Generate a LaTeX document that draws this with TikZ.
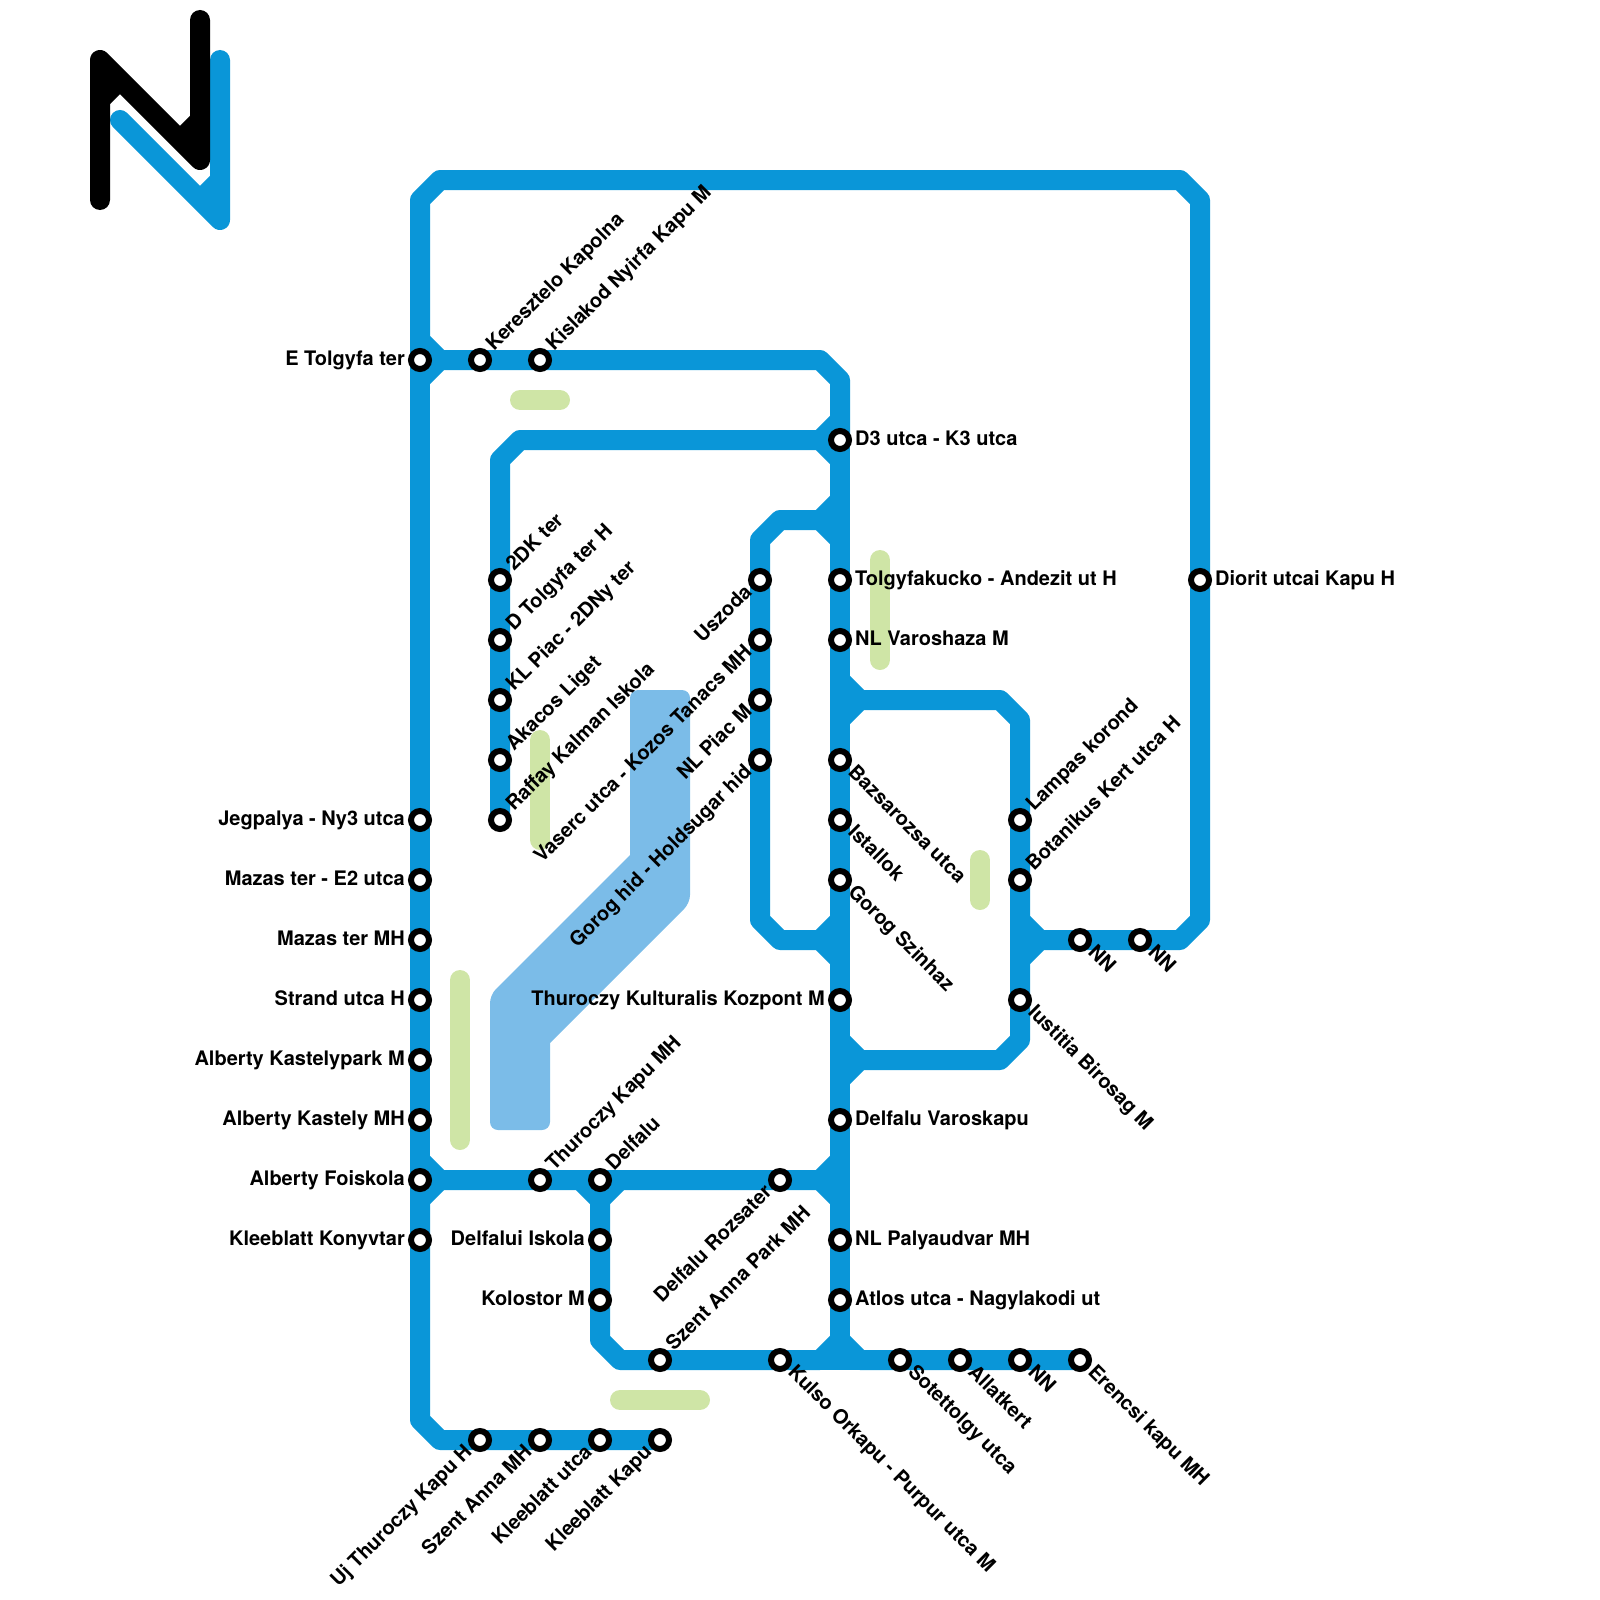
\documentclass[tikz,border=0pt]{standalone}
\usepackage{fontspec}
\setmainfont{TeX Gyre Heros}[Ligatures=TeX]
\usetikzlibrary{calc}
\pgfdeclarelayer{bgl}
\pgfsetlayers{bgl,main}
\definecolor{lineblue}{HTML}{0A96D8}
\definecolor{areablue}{HTML}{7BBCE8}
\definecolor{parkgreen}{HTML}{CFE5A6}
\tikzset{
  x=1pt,y=-1pt,
  stnode/.style={circle,draw=black,fill=white,line width=6pt,minimum size=18pt,inner sep=0pt},
  lab/.style={font=\bfseries\fontsize{20}{20}\selectfont,inner sep=0pt,text=black},
  labE/.style={lab,anchor=base west,xshift=15pt,yshift=-5pt},
  labW/.style={lab,anchor=base east,xshift=-15pt,yshift=-5pt},
  labNE/.style={lab,anchor=base west,xshift=14pt,yshift=8pt,rotate=45},
  labSE/.style={lab,anchor=base west,xshift=7pt,yshift=-13pt,rotate=-45},
  labSW/.style={lab,anchor=base east,xshift=-7pt,yshift=-13pt,rotate=45},
  route/.style={draw=lineblue,line width=20pt,line join=round,line cap=butt},
  park/.style={draw=parkgreen,line width=20pt,line cap=round},
  logo/.style={line width=20pt,line cap=round,line join=round},
  logocut/.style={line width=20pt,line cap=butt},
}
\newcommand{\stn}[5]{\node[stnode] (#1) at (#2,#3) {}; \node[lab#4] (#1-l) at (#1.center) {#5};}
\newcommand{\bend}[3]{\coordinate (#1) at (#2,#3);}
\begin{document}
\begin{tikzpicture}
\useasboundingbox (0,0) rectangle (1600,1600);
% stations
\stn{a1}{420}{360}{W}{E Tolgyfa ter}
\stn{a2}{480}{360}{NE}{Keresztelo Kapolna}
\stn{a3}{540}{360}{NE}{Kislakod Nyirfa Kapu M}
\stn{b1}{500}{580}{NE}{2DK ter}
\stn{b2}{500}{640}{NE}{D Tolgyfa ter H}
\stn{b3}{500}{700}{NE}{KL Piac - 2DNy ter}
\stn{b4}{500}{760}{NE}{Akacos Liget}
\stn{b5}{500}{820}{NE}{Raffay Kalman Iskola}
\stn{c1}{760}{580}{SW}{Uszoda}
\stn{c2}{760}{640}{SW}{Vaserc utca - Kozos Tanacs MH}
\stn{c3}{760}{700}{SW}{NL Piac M}
\stn{c4}{760}{760}{SW}{Gorog hid - Holdsugar hid}
\stn{d1}{840}{440}{E}{D3 utca - K3 utca}
\stn{d2}{840}{580}{E}{Tolgyfakucko - Andezit ut H}
\stn{d3}{840}{640}{E}{NL Varoshaza M}
\stn{d4}{840}{760}{SE}{Bazsarozsa utca}
\stn{d5}{840}{820}{SE}{Istallok}
\stn{d6}{840}{880}{SE}{Gorog Szinhaz}
\stn{d7}{840}{1000}{W}{Thuroczy Kulturalis Kozpont M}
\stn{d8}{840}{1120}{E}{Delfalu Varoskapu}
\stn{d9}{840}{1240}{E}{NL Palyaudvar MH}
\stn{d10}{840}{1300}{E}{Atlos utca - Nagylakodi ut}
\stn{e1}{1200}{580}{E}{Diorit utcai Kapu H}
\stn{f1}{1020}{820}{NE}{Lampas korond}
\stn{f2}{1020}{880}{NE}{Botanikus Kert utca H}
\stn{f3}{1020}{1000}{SE}{Iustitia Birosag M}
\stn{g1}{1080}{940}{SE}{NN}
\stn{g2}{1140}{940}{SE}{NN}
\stn{h1}{420}{820}{W}{Jegpalya - Ny3 utca}
\stn{h2}{420}{880}{W}{Mazas ter - E2 utca}
\stn{h3}{420}{940}{W}{Mazas ter MH}
\stn{h4}{420}{1000}{W}{Strand utca H}
\stn{h5}{420}{1060}{W}{Alberty Kastelypark M}
\stn{h6}{420}{1120}{W}{Alberty Kastely MH}
\stn{h7}{420}{1180}{W}{Alberty Foiskola}
\stn{h8}{420}{1240}{W}{Kleeblatt Konyvtar}
\stn{i1}{540}{1180}{NE}{Thuroczy Kapu MH}
\stn{i2}{600}{1180}{NE}{Delfalu}
\stn{i3}{780}{1180}{SW}{Delfalu Rozsater}
\stn{j1}{600}{1240}{W}{Delfalui Iskola}
\stn{j2}{600}{1300}{W}{Kolostor M}
\stn{k1}{660}{1360}{NE}{Szent Anna Park MH}
\stn{k2}{780}{1360}{SE}{Kulso Orkapu - Purpur utca M}
\stn{k3}{900}{1360}{SE}{Sotettolgy utca}
\stn{k4}{960}{1360}{SE}{Allatkert}
\stn{k5}{1020}{1360}{SE}{NN}
\stn{k6}{1080}{1360}{SE}{Erencsi kapu MH}
\stn{m1}{480}{1440}{SW}{Uj Thuroczy Kapu H}
\stn{m2}{540}{1440}{SW}{Szent Anna MH}
\stn{m3}{600}{1440}{SW}{Kleeblatt utca}
\stn{m4}{660}{1440}{SW}{Kleeblatt Kapu}
% bends
\bend{p1}{420}{340}\bend{p2}{420}{200}\bend{p3}{440}{180}\bend{p4}{1180}{180}\bend{p5}{1200}{200}
\bend{p6}{1200}{920}\bend{p7}{1180}{940}\bend{p8}{1040}{940}\bend{p9}{1020}{920}\bend{p10}{1020}{960}
\bend{q1}{440}{360}\bend{q2}{420}{380}\bend{q3}{820}{360}\bend{q4}{840}{380}
\bend{r1}{840}{420}\bend{r2}{820}{440}\bend{r3}{840}{460}\bend{r4}{520}{440}\bend{r5}{500}{460}
\bend{t1}{840}{500}\bend{t2}{820}{520}\bend{t3}{840}{540}\bend{t4}{780}{520}\bend{t5}{760}{540}
\bend{t6}{760}{920}\bend{t7}{780}{940}\bend{t8}{820}{940}\bend{t9}{840}{920}\bend{t10}{840}{960}
\bend{u1}{840}{680}\bend{u2}{860}{700}\bend{u3}{840}{720}\bend{u4}{1000}{700}\bend{u5}{1020}{720}
\bend{v1}{1020}{1040}\bend{v2}{1000}{1060}\bend{v3}{860}{1060}\bend{v4}{840}{1040}\bend{v5}{840}{1080}
\bend{w1}{420}{1160}\bend{w2}{440}{1180}\bend{w3}{420}{1200}\bend{w4}{820}{1180}\bend{w5}{840}{1160}\bend{w6}{840}{1200}
\bend{x1}{580}{1180}\bend{x2}{600}{1200}\bend{x3}{620}{1180}\bend{x4}{600}{1340}\bend{x5}{620}{1360}
\bend{x6}{820}{1360}\bend{x7}{840}{1340}\bend{x8}{860}{1360}
\bend{y1}{420}{1420}\bend{y2}{440}{1440}
\bend{z1}{630}{690}\bend{z2}{690}{690}\bend{z3}{690}{903}\bend{z4}{550}{1043}\bend{z5}{550}{1130}
\bend{z6}{490}{1130}\bend{z7}{490}{995}\bend{z8}{630}{855}
\bend{g1a}{520}{400}\bend{g1b}{560}{400}\bend{g2a}{880}{560}\bend{g2b}{880}{660}
\bend{g3a}{980}{860}\bend{g3b}{980}{900}\bend{g4a}{540}{740}\bend{g4b}{540}{840}
\bend{g5a}{460}{980}\bend{g5b}{460}{1140}\bend{g6a}{620}{1400}\bend{g6b}{700}{1400}
\bend{n1}{100}{200}\bend{n2}{100}{60}\bend{n3}{200}{160}\bend{n4}{200}{20}
\bend{n5}{120}{120}\bend{n6}{220}{220}\bend{n7}{220}{60}
\bend{n8}{100}{100}\bend{n9}{120}{80}\bend{n10}{200}{120}\bend{n11}{180}{140}\bend{n12}{220}{180}\bend{n13}{200}{200}
\begin{pgfonlayer}{bgl}
% parks and area
\fill[areablue] (z8) [rounded corners=8pt] -- (z1) -- (z2) -- (z3) [sharp corners] -- (z4) [rounded corners=8pt] -- (z5) -- (z6) -- (z7) [sharp corners] -- (z8) -- cycle;
\draw[park] (g1a) -- (g1b);
\draw[park] (g2a) -- (g2b);
\draw[park] (g3a) -- (g3b);
\draw[park] (g4a) -- (g4b);
\draw[park] (g5a) -- (g5b);
\draw[park] (g6a) -- (g6b);
% routes
\draw[route] (p10) -- (p8) -- (g1.center) -- (g2.center) -- (p7) -- (p6) -- (e1.center) -- (p5) -- (p4) -- (p3) -- (p2) -- (p1) -- (q1);
\draw[route] (p9) -- (p8);
\draw[route] (w3) -- (h8.center) -- (y1) -- (y2) -- (m1.center) -- (m2.center) -- (m3.center) -- (m4.center);
\draw[route] (w3) -- (w2);
\draw[route] (p2) -- (a1.center) -- (h1.center) -- (h2.center) -- (h3.center) -- (h4.center) -- (h5.center) -- (h6.center) -- (h7.center) -- (h8.center);
\draw[route] (q2) -- (q1) -- (a2.center) -- (a3.center) -- (q3) -- (q4) -- (r1) -- (d1.center);
\draw[route] (a1.center) -- (q1);
\draw[route] (b5.center) -- (b4.center) -- (b3.center) -- (b2.center) -- (b1.center) -- (r5) -- (r4) -- (r2) -- (r1);
\draw[route] (r2) -- (r3);
\draw[route] (t1) -- (t2) -- (t4) -- (t5) -- (c1.center) -- (c2.center) -- (c3.center) -- (c4.center) -- (t6) -- (t7) -- (t8) -- (t9);
\draw[route] (t2) -- (t3);
\draw[route] (t8) -- (t10);
\draw[route] (q4) -- (d1.center) -- (d2.center) -- (d3.center) -- (d4.center) -- (d5.center) -- (d6.center) -- (d7.center) -- (d8.center) -- (d9.center) -- (d10.center) -- (x7);
\draw[route] (u3) -- (u2) -- (u4) -- (u5) -- (f1.center) -- (f2.center) -- (p9) -- (f3.center) -- (v1) -- (v2) -- (v3) -- (v5);
\draw[route] (u1) -- (u2);
\draw[route] (v3) -- (v4);
\draw[route] (w1) -- (w2) -- (i1.center) -- (i2.center) -- (i3.center) -- (w4) -- (w5);
\draw[route] (w4) -- (w6);
\draw[route] (x1) -- (x2) -- (j1.center) -- (j2.center) -- (x4) -- (x5) -- (k1.center) -- (k2.center) -- (x6) -- (x7) -- (x8) -- (k3.center) -- (k4.center) -- (k5.center) -- (k6.center);
\draw[route] (x3) -- (x2);
\draw[route] (x6) -- (x8);
\end{pgfonlayer}
% logo
\draw[logo,lineblue] (n5) -- (n6) -- (n7);
\draw[logocut,lineblue] (n12) -- (n13);
\draw[logo,black] (n1) -- (n2) -- (n3) -- (n4);
\draw[logocut,black] (n8) -- (n9);
\draw[logocut,black] (n10) -- (n11);
\end{tikzpicture}
\end{document}
